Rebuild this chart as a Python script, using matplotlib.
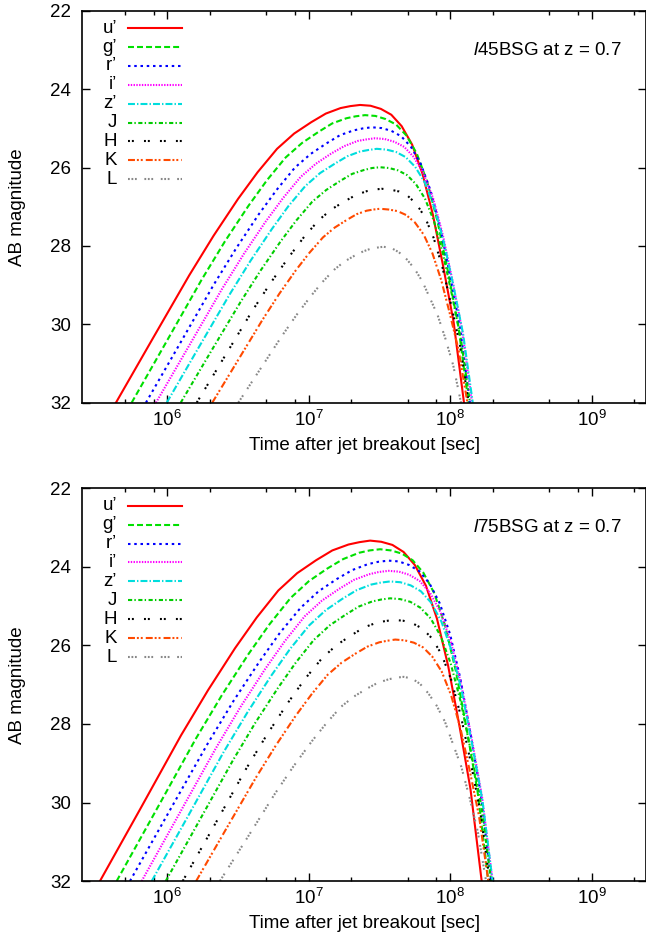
import matplotlib as mpl
mpl.use('Agg')
import matplotlib.pyplot as plt
import numpy as np
from matplotlib.ticker import LogLocator, LogFormatterMathtext, NullFormatter

plt.rcParams['font.family'] = ['Liberation Sans', 'DejaVu Sans']
plt.rcParams['font.size'] = 13.5
plt.rcParams['mathtext.fontset'] = 'custom'
plt.rcParams['mathtext.rm'] = 'Liberation Sans'
plt.rcParams['mathtext.it'] = 'Liberation Sans:italic'
plt.rcParams['lines.scale_dashes'] = False

# band names as in the legend
bands = ['u\u2019', 'g\u2019', 'r\u2019', 'i\u2019', 'z\u2019', 'J', 'H', 'K', 'L']

# l45BSG (upper panel): log10(time after breakout [s]) and AB magnitude
t45_u = [5.637, 5.896, 6.155, 6.327, 6.500, 6.638, 6.776, 6.897, 7.018, 7.121, 7.225, 7.294, 7.363,
         7.437, 7.510, 7.584, 7.657, 7.731, 7.804, 7.878, 7.951, 8.025, 8.098]
m45_u = [32, 30.37, 28.75, 27.74, 26.80, 26.12, 25.52, 25.13, 24.84, 24.62, 24.48, 24.43, 24.40,
         24.42, 24.50, 24.65, 24.94, 25.41, 26.15, 27.20, 28.52, 29.95, 32]
t45_g = [5.748, 5.996, 6.243, 6.408, 6.573, 6.705, 6.837, 6.953, 7.068, 7.167, 7.266, 7.332, 7.398,
         7.471, 7.544, 7.618, 7.691, 7.764, 7.837, 7.910, 7.984, 8.057, 8.130]
m45_g = [32, 30.43, 28.86, 27.88, 26.98, 26.32, 25.74, 25.37, 25.09, 24.87, 24.74, 24.69, 24.66,
         24.68, 24.76, 24.90, 25.18, 25.64, 26.35, 27.36, 28.64, 30.02, 32]
t45_r = [5.849, 6.088, 6.328, 6.487, 6.647, 6.775, 6.902, 7.014, 7.126, 7.222, 7.317, 7.381, 7.445,
         7.515, 7.584, 7.654, 7.723, 7.793, 7.862, 7.932, 8.001, 8.071, 8.140]
m45_r = [32, 30.50, 28.99, 28.06, 27.19, 26.56, 26.00, 25.65, 25.38, 25.17, 25.05, 25.00, 24.97,
         24.99, 25.06, 25.20, 25.47, 25.91, 26.59, 27.56, 28.78, 30.10, 32]
t45_i = [5.920, 6.152, 6.385, 6.540, 6.695, 6.818, 6.942, 7.051, 7.159, 7.252, 7.345, 7.407, 7.469,
         7.538, 7.606, 7.675, 7.743, 7.812, 7.881, 7.949, 8.018, 8.086, 8.155]
m45_i = [32, 30.56, 29.11, 28.21, 27.38, 26.78, 26.24, 25.90, 25.64, 25.45, 25.32, 25.28, 25.25,
         25.27, 25.34, 25.47, 25.73, 26.15, 26.80, 27.73, 28.91, 30.18, 32]
t45_z = [5.996, 6.219, 6.442, 6.590, 6.739, 6.857, 6.976, 7.080, 7.184, 7.273, 7.362, 7.422, 7.481,
         7.549, 7.617, 7.685, 7.753, 7.821, 7.888, 7.956, 8.024, 8.092, 8.160]
m45_z = [32, 30.61, 29.23, 28.37, 27.57, 26.98, 26.47, 26.14, 25.90, 25.71, 25.59, 25.55, 25.52,
         25.54, 25.60, 25.73, 25.98, 26.38, 27.01, 27.91, 29.03, 30.25, 32]
t45_J = [6.095, 6.306, 6.518, 6.659, 6.800, 6.912, 7.025, 7.124, 7.222, 7.307, 7.391, 7.448, 7.504,
         7.568, 7.631, 7.695, 7.758, 7.822, 7.886, 7.949, 8.013, 8.076, 8.140]
m45_J = [32, 30.71, 29.43, 28.63, 27.89, 27.35, 26.87, 26.57, 26.34, 26.16, 26.06, 26.01, 25.99,
         26.01, 26.07, 26.19, 26.42, 26.79, 27.37, 28.20, 29.25, 30.38, 32]
t45_H = [6.208, 6.404, 6.600, 6.731, 6.862, 6.967, 7.071, 7.163, 7.254, 7.333, 7.411, 7.464, 7.516,
         7.577, 7.639, 7.700, 7.762, 7.823, 7.884, 7.946, 8.007, 8.069, 8.130]
m45_H = [32, 30.83, 29.66, 28.94, 28.27, 27.77, 27.34, 27.06, 26.86, 26.70, 26.60, 26.56, 26.54,
         26.56, 26.61, 26.72, 26.93, 27.27, 27.80, 28.55, 29.50, 30.53, 32]
t45_K = [6.318, 6.496, 6.674, 6.792, 6.911, 7.006, 7.101, 7.184, 7.267, 7.338, 7.409, 7.457, 7.504,
         7.566, 7.628, 7.689, 7.751, 7.813, 7.875, 7.937, 7.998, 8.060, 8.122]
m45_K = [32, 30.94, 29.88, 29.22, 28.61, 28.17, 27.78, 27.53, 27.34, 27.19, 27.10, 27.07, 27.05,
         27.07, 27.11, 27.21, 27.40, 27.71, 28.19, 28.87, 29.73, 30.66, 32]
t45_L = [6.502, 6.656, 6.810, 6.912, 7.015, 7.097, 7.179, 7.251, 7.323, 7.384, 7.446, 7.487, 7.528,
         7.583, 7.638, 7.693, 7.748, 7.803, 7.857, 7.912, 7.967, 8.022, 8.077]
m45_L = [32, 31.15, 30.30, 29.77, 29.28, 28.92, 28.61, 28.40, 28.25, 28.14, 28.06, 28.04, 28.02,
         28.05, 28.16, 28.34, 28.58, 28.90, 29.33, 29.77, 30.37, 31.05, 32]

# l75BSG (lower panel)
t75_u = [5.524, 5.811, 6.097, 6.288, 6.479, 6.632, 6.785, 6.918, 7.052, 7.167, 7.281, 7.358, 7.434,
         7.513, 7.592, 7.671, 7.750, 7.829, 7.907, 7.986, 8.065, 8.144, 8.223]
m75_u = [32, 30.15, 28.29, 27.14, 26.07, 25.29, 24.60, 24.16, 23.83, 23.58, 23.43, 23.37, 23.33,
         23.36, 23.44, 23.62, 23.95, 24.48, 25.32, 26.52, 28.03, 29.66, 32]
t75_g = [5.642, 5.922, 6.201, 6.387, 6.574, 6.723, 6.872, 7.002, 7.132, 7.244, 7.356, 7.431, 7.505,
         7.582, 7.658, 7.735, 7.811, 7.888, 7.964, 8.041, 8.117, 8.194, 8.270]
m75_g = [32, 30.19, 28.38, 27.26, 26.22, 25.46, 24.79, 24.36, 24.04, 23.80, 23.64, 23.58, 23.55,
         23.58, 23.66, 23.83, 24.15, 24.67, 25.49, 26.66, 28.13, 29.72, 32]
t75_r = [5.736, 6.010, 6.284, 6.467, 6.650, 6.796, 6.943, 7.070, 7.198, 7.308, 7.418, 7.491, 7.564,
         7.637, 7.709, 7.782, 7.854, 7.927, 8.000, 8.072, 8.145, 8.217, 8.290]
m75_r = [32, 30.25, 28.51, 27.42, 26.42, 25.68, 25.04, 24.62, 24.31, 24.08, 23.93, 23.87, 23.84,
         23.86, 23.95, 24.11, 24.42, 24.93, 25.72, 26.84, 28.26, 29.80, 32]
t75_i = [5.819, 6.081, 6.343, 6.517, 6.692, 6.831, 6.971, 7.093, 7.215, 7.320, 7.424, 7.494, 7.564,
         7.638, 7.711, 7.785, 7.858, 7.932, 8.006, 8.079, 8.153, 8.226, 8.300]
m75_i = [32, 30.31, 28.62, 27.57, 26.60, 25.89, 25.26, 24.86, 24.56, 24.33, 24.19, 24.13, 24.10,
         24.12, 24.20, 24.36, 24.66, 25.15, 25.92, 27.01, 28.38, 29.87, 32]
t75_z = [5.890, 6.143, 6.396, 6.564, 6.733, 6.868, 7.003, 7.121, 7.239, 7.340, 7.441, 7.509, 7.576,
         7.648, 7.721, 7.793, 7.866, 7.938, 8.010, 8.083, 8.155, 8.228, 8.300]
m75_z = [32, 30.37, 28.73, 27.72, 26.78, 26.09, 25.49, 25.10, 24.81, 24.59, 24.45, 24.40, 24.37,
         24.39, 24.47, 24.62, 24.91, 25.39, 26.13, 27.18, 28.51, 29.94, 32]
t75_J = [5.989, 6.227, 6.465, 6.624, 6.783, 6.910, 7.036, 7.148, 7.259, 7.354, 7.449, 7.513, 7.576,
         7.647, 7.719, 7.790, 7.862, 7.933, 8.004, 8.076, 8.147, 8.219, 8.290]
m75_J = [32, 30.46, 28.92, 27.96, 27.08, 26.43, 25.86, 25.49, 25.22, 25.01, 24.88, 24.83, 24.80,
         24.82, 24.89, 25.04, 25.31, 25.76, 26.46, 27.45, 28.70, 30.06, 32]
t75_H = [6.109, 6.333, 6.556, 6.705, 6.855, 6.974, 7.093, 7.197, 7.302, 7.391, 7.481, 7.540, 7.600,
         7.668, 7.736, 7.804, 7.872, 7.940, 8.008, 8.076, 8.144, 8.212, 8.280]
m75_H = [32, 30.58, 29.15, 28.27, 27.45, 26.85, 26.33, 25.99, 25.74, 25.54, 25.42, 25.38, 25.35,
         25.37, 25.44, 25.57, 25.82, 26.23, 26.88, 27.80, 28.95, 30.21, 32]
t75_K = [6.204, 6.415, 6.626, 6.767, 6.908, 7.021, 7.133, 7.232, 7.330, 7.415, 7.499, 7.556, 7.612,
         7.678, 7.744, 7.809, 7.875, 7.941, 8.007, 8.073, 8.138, 8.204, 8.270]
m75_K = [32, 30.68, 29.37, 28.55, 27.79, 27.24, 26.75, 26.44, 26.21, 26.03, 25.92, 25.88, 25.85,
         25.87, 25.93, 26.05, 26.29, 26.67, 27.27, 28.11, 29.18, 30.34, 32]
t75_L = [6.372, 6.567, 6.762, 6.892, 7.022, 7.125, 7.229, 7.320, 7.411, 7.489, 7.567, 7.619, 7.671,
         7.729, 7.788, 7.846, 7.904, 7.963, 8.021, 8.079, 8.137, 8.196, 8.254]
m75_L = [32, 30.89, 29.77, 29.08, 28.44, 27.98, 27.56, 27.30, 27.10, 26.95, 26.86, 26.82, 26.80,
         26.84, 26.98, 27.22, 27.53, 27.94, 28.52, 29.09, 29.87, 30.75, 32]

# gnuplot-ish line types
colors = ['#ff0000', '#00e000', '#0000ff', '#ff00ff', '#00dddd',
          '#00cc00', '#000000', '#ff4a00', '#888888']
dashes = [None, (4.3, 2.2), (1.8, 2.7), (1.0, 1.0), (5.0, 1.5, 1.0, 1.5),
          (3.0, 1.6, 1.0, 1.8), (1.4, 1.4, 1.4, 7.3),
          (5.0, 1.4, 1.4, 1.4, 1.4, 2.2), (1.3, 1.2, 1.3, 1.2, 1.3, 5.5)]


def panel(ax, times, mags, title):
    for k in range(len(bands)):
        line, = ax.plot(10 ** np.array(times[k]), mags[k], color=colors[k], lw=1.5)
        if dashes[k] is not None:
            line.set_dashes(dashes[k])
        # legend entry, label right aligned left of the sample like gnuplot
        yk = 0.956 - 0.0482 * k
        sample, = ax.plot([0.081, 0.177], [yk, yk], color=colors[k], lw=1.5,
                          transform=ax.transAxes)
        if dashes[k] is not None:
            sample.set_dashes(dashes[k])
        ax.text(0.0616, yk, bands[k], transform=ax.transAxes,
                ha='right', va='center')

    ax.text(0.957, 0.9, title, transform=ax.transAxes, ha='right', va='center')

    ax.set_xscale('log')
    ax.set_xlim(10 ** 5.399, 10 ** 9.385)
    ax.set_ylim(32, 22)
    ax.set_yticks([22, 24, 26, 28, 30, 32])
    ax.xaxis.set_major_locator(LogLocator(base=10, numticks=10))
    ax.xaxis.set_major_formatter(LogFormatterMathtext())
    ax.xaxis.set_minor_locator(LogLocator(base=10, subs=(2, 5, 8), numticks=10))
    ax.xaxis.set_minor_formatter(NullFormatter())
    ax.tick_params(which='both', direction='in', top=True, right=True,
                   width=1.0, labelsize=13.5)
    ax.tick_params(which='major', length=5.5)
    ax.tick_params(axis='x', which='major', pad=5)
    ax.tick_params(axis='y', which='major', pad=8)
    ax.tick_params(which='minor', length=3)
    for s in ax.spines.values():
        s.set_linewidth(1.2)
    ax.set_xlabel('Time after jet breakout [sec]', labelpad=5)
    ax.set_ylabel('AB magnitude')
    ax.yaxis.set_label_coords(-0.10, 0.5)


fig = plt.figure(figsize=(6.46, 9.43), dpi=100)
ax1 = fig.add_axes([0.1274, 0.5730, 0.8726, 0.4154])
ax2 = fig.add_axes([0.1274, 0.0657, 0.8726, 0.4164])

panel(ax1,
      [t45_u, t45_g, t45_r, t45_i, t45_z, t45_J, t45_H, t45_K, t45_L],
      [m45_u, m45_g, m45_r, m45_i, m45_z, m45_J, m45_H, m45_K, m45_L],
      r'$\mathit{l}$45BSG at z = 0.7')
panel(ax2,
      [t75_u, t75_g, t75_r, t75_i, t75_z, t75_J, t75_H, t75_K, t75_L],
      [m75_u, m75_g, m75_r, m75_i, m75_z, m75_J, m75_H, m75_K, m75_L],
      r'$\mathit{l}$75BSG at z = 0.7')

plt.savefig('out.png', dpi=100)
